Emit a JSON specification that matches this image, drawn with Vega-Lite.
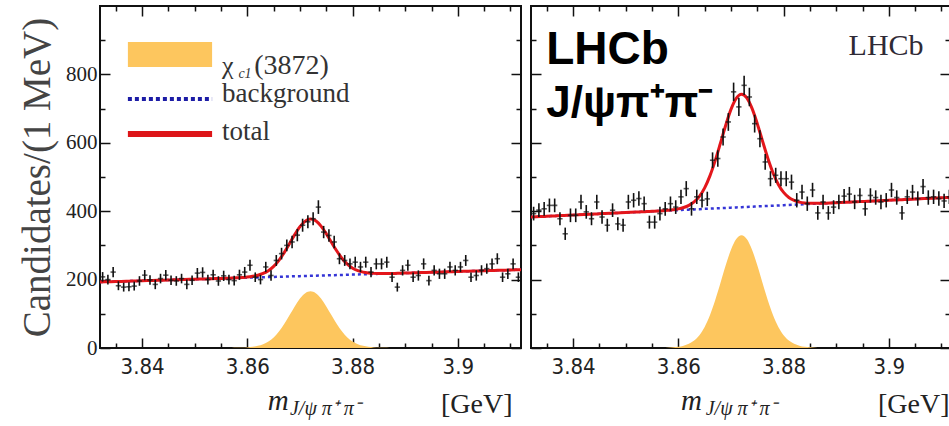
{
  "$schema": "https://vega.github.io/schema/vega-lite/v6.json",
  "background": "white",
  "padding": {"left": 17, "top": 4, "right": 0, "bottom": 0},
  "spacing": 6,
  "config": {
    "view": {"stroke": "#111", "strokeWidth": 2},
    "axis": {"domain": false, "grid": false, "tickColor": "#111", "tickWidth": 1.5, "labelOverlap": false, "labelFlush": false}
  },
  "datasets": {
    "curveL": [
      {"m":3.832,"bg":193.0,"sig":0,"tot":193.0},{"m":3.833,"bg":193.5,"sig":0,"tot":193.5},{"m":3.834,"bg":193.9,"sig":0,"tot":193.9},{"m":3.835,"bg":194.4,"sig":0,"tot":194.4},{"m":3.836,"bg":194.8,"sig":0,"tot":194.8},{"m":3.837,"bg":195.3,"sig":0,"tot":195.3},{"m":3.838,"bg":195.7,"sig":0,"tot":195.7},{"m":3.839,"bg":196.2,"sig":0,"tot":196.2},{"m":3.84,"bg":196.6,"sig":0,"tot":196.6},{"m":3.841,"bg":197.1,"sig":0,"tot":197.1},
      {"m":3.842,"bg":197.5,"sig":0,"tot":197.5},{"m":3.843,"bg":198.0,"sig":0,"tot":198.0},{"m":3.844,"bg":198.4,"sig":0,"tot":198.4},{"m":3.845,"bg":198.9,"sig":0,"tot":198.9},{"m":3.846,"bg":199.3,"sig":0,"tot":199.3},{"m":3.847,"bg":199.8,"sig":0,"tot":199.8},{"m":3.848,"bg":200.2,"sig":0,"tot":200.2},{"m":3.849,"bg":200.7,"sig":0,"tot":200.7},{"m":3.85,"bg":201.1,"sig":0,"tot":201.1},{"m":3.851,"bg":201.6,"sig":0,"tot":201.6},
      {"m":3.852,"bg":202.0,"sig":0,"tot":202.0},{"m":3.853,"bg":202.5,"sig":0,"tot":202.5},{"m":3.854,"bg":202.9,"sig":0,"tot":202.9},{"m":3.855,"bg":203.4,"sig":0,"tot":203.4},{"m":3.856,"bg":203.8,"sig":0,"tot":203.8},{"m":3.857,"bg":204.3,"sig":0.2,"tot":204.5},{"m":3.858,"bg":204.7,"sig":0.5,"tot":205.2},{"m":3.859,"bg":205.2,"sig":1.0,"tot":206.2},{"m":3.86,"bg":205.6,"sig":1.8,"tot":207.4},{"m":3.861,"bg":206.1,"sig":3.5,"tot":209.6},
      {"m":3.862,"bg":206.5,"sig":6.3,"tot":212.8},{"m":3.863,"bg":207.0,"sig":11.0,"tot":218.0},{"m":3.864,"bg":207.4,"sig":18.8,"tot":226.2},{"m":3.865,"bg":207.9,"sig":30.9,"tot":238.8},{"m":3.866,"bg":208.3,"sig":48.1,"tot":256.4},{"m":3.867,"bg":208.8,"sig":70.2,"tot":279.0},{"m":3.868,"bg":209.2,"sig":95.6,"tot":304.8},{"m":3.869,"bg":209.7,"sig":121.7,"tot":331.4},{"m":3.87,"bg":210.1,"sig":144.6,"tot":354.7},{"m":3.871,"bg":210.6,"sig":160.4,"tot":371.0},
      {"m":3.872,"bg":211.0,"sig":166.0,"tot":377.0},{"m":3.873,"bg":211.5,"sig":160.4,"tot":371.9},{"m":3.874,"bg":211.9,"sig":144.6,"tot":356.5},{"m":3.875,"bg":212.4,"sig":121.7,"tot":334.1},{"m":3.876,"bg":212.8,"sig":95.6,"tot":308.4},{"m":3.877,"bg":213.3,"sig":70.2,"tot":283.5},{"m":3.878,"bg":213.7,"sig":48.1,"tot":261.8},{"m":3.879,"bg":214.2,"sig":30.9,"tot":245.1},{"m":3.88,"bg":214.6,"sig":18.8,"tot":233.4},{"m":3.881,"bg":215.1,"sig":11.0,"tot":226.1},
      {"m":3.882,"bg":215.5,"sig":6.3,"tot":221.8},{"m":3.883,"bg":216.0,"sig":3.5,"tot":219.5},{"m":3.884,"bg":216.4,"sig":1.8,"tot":218.2},{"m":3.885,"bg":216.9,"sig":1.0,"tot":217.9},{"m":3.886,"bg":217.3,"sig":0.5,"tot":217.8},{"m":3.887,"bg":217.8,"sig":0.2,"tot":218.0},{"m":3.888,"bg":218.2,"sig":0,"tot":218.2},{"m":3.889,"bg":218.7,"sig":0,"tot":218.7},{"m":3.89,"bg":219.1,"sig":0,"tot":219.1},{"m":3.891,"bg":219.6,"sig":0,"tot":219.6},
      {"m":3.892,"bg":220.0,"sig":0,"tot":220.0},{"m":3.893,"bg":220.5,"sig":0,"tot":220.5},{"m":3.894,"bg":220.9,"sig":0,"tot":220.9},{"m":3.895,"bg":221.4,"sig":0,"tot":221.4},{"m":3.896,"bg":221.8,"sig":0,"tot":221.8},{"m":3.897,"bg":222.3,"sig":0,"tot":222.3},{"m":3.898,"bg":222.7,"sig":0,"tot":222.7},{"m":3.899,"bg":223.2,"sig":0,"tot":223.2},{"m":3.9,"bg":223.6,"sig":0,"tot":223.6},{"m":3.901,"bg":224.1,"sig":0,"tot":224.1},
      {"m":3.902,"bg":224.5,"sig":0,"tot":224.5},{"m":3.903,"bg":225.0,"sig":0,"tot":225.0},{"m":3.904,"bg":225.4,"sig":0,"tot":225.4},{"m":3.905,"bg":225.9,"sig":0,"tot":225.9},{"m":3.906,"bg":226.3,"sig":0,"tot":226.3},{"m":3.907,"bg":226.8,"sig":0,"tot":226.8},{"m":3.908,"bg":227.2,"sig":0,"tot":227.2},{"m":3.909,"bg":227.7,"sig":0,"tot":227.7},{"m":3.91,"bg":228.1,"sig":0,"tot":228.1},{"m":3.911,"bg":228.6,"sig":0,"tot":228.6},
      {"m":3.912,"bg":229.0,"sig":0,"tot":229.0}
    ],
    "curveR": [
      {"m":3.832,"bg":383.0,"sig":0,"tot":383.0},{"m":3.833,"bg":383.7,"sig":0,"tot":383.7},{"m":3.834,"bg":384.4,"sig":0,"tot":384.4},{"m":3.835,"bg":385.2,"sig":0,"tot":385.2},{"m":3.836,"bg":385.9,"sig":0,"tot":385.9},{"m":3.837,"bg":386.6,"sig":0,"tot":386.6},{"m":3.838,"bg":387.3,"sig":0,"tot":387.3},{"m":3.839,"bg":388.0,"sig":0,"tot":388.0},{"m":3.84,"bg":388.8,"sig":0,"tot":388.8},{"m":3.841,"bg":389.5,"sig":0,"tot":389.5},
      {"m":3.842,"bg":390.2,"sig":0,"tot":390.2},{"m":3.843,"bg":390.9,"sig":0,"tot":390.9},{"m":3.844,"bg":391.6,"sig":0,"tot":391.6},{"m":3.845,"bg":392.4,"sig":0,"tot":392.4},{"m":3.846,"bg":393.1,"sig":0,"tot":393.1},{"m":3.847,"bg":393.8,"sig":0,"tot":393.8},{"m":3.848,"bg":394.5,"sig":0,"tot":394.5},{"m":3.849,"bg":395.2,"sig":0,"tot":395.2},{"m":3.85,"bg":396.0,"sig":0,"tot":396.0},{"m":3.851,"bg":396.7,"sig":0,"tot":396.7},
      {"m":3.852,"bg":397.4,"sig":0,"tot":397.4},{"m":3.853,"bg":398.1,"sig":0,"tot":398.1},{"m":3.854,"bg":398.8,"sig":0,"tot":398.8},{"m":3.855,"bg":399.6,"sig":0,"tot":399.6},{"m":3.856,"bg":400.3,"sig":0,"tot":400.3},{"m":3.857,"bg":401.0,"sig":0.3,"tot":401.3},{"m":3.858,"bg":401.7,"sig":1.0,"tot":402.7},{"m":3.859,"bg":402.4,"sig":2.0,"tot":404.4},{"m":3.86,"bg":403.2,"sig":3.6,"tot":406.8},{"m":3.861,"bg":403.9,"sig":6.9,"tot":410.8},
      {"m":3.862,"bg":404.6,"sig":12.5,"tot":417.1},{"m":3.863,"bg":405.3,"sig":21.8,"tot":427.1},{"m":3.864,"bg":406.0,"sig":37.3,"tot":443.3},{"m":3.865,"bg":406.8,"sig":61.4,"tot":468.2},{"m":3.866,"bg":407.5,"sig":95.7,"tot":503.2},{"m":3.867,"bg":408.2,"sig":139.6,"tot":547.8},{"m":3.868,"bg":408.9,"sig":190.1,"tot":599.0},{"m":3.869,"bg":409.6,"sig":241.9,"tot":651.5},{"m":3.87,"bg":410.4,"sig":287.4,"tot":697.8},{"m":3.871,"bg":411.1,"sig":318.8,"tot":729.9},
      {"m":3.872,"bg":411.8,"sig":330.0,"tot":741.8},{"m":3.873,"bg":412.5,"sig":318.8,"tot":731.3},{"m":3.874,"bg":413.2,"sig":287.4,"tot":700.6},{"m":3.875,"bg":414.0,"sig":241.9,"tot":655.9},{"m":3.876,"bg":414.7,"sig":190.1,"tot":604.8},{"m":3.877,"bg":415.4,"sig":139.6,"tot":555.0},{"m":3.878,"bg":416.1,"sig":95.7,"tot":511.8},{"m":3.879,"bg":416.8,"sig":61.4,"tot":478.2},{"m":3.88,"bg":417.6,"sig":37.3,"tot":454.9},{"m":3.881,"bg":418.3,"sig":21.8,"tot":440.1},
      {"m":3.882,"bg":419.0,"sig":12.5,"tot":431.5},{"m":3.883,"bg":419.7,"sig":6.9,"tot":426.6},{"m":3.884,"bg":420.4,"sig":3.6,"tot":424.0},{"m":3.885,"bg":421.2,"sig":2.0,"tot":423.2},{"m":3.886,"bg":421.9,"sig":1.0,"tot":422.9},{"m":3.887,"bg":422.6,"sig":0.3,"tot":422.9},{"m":3.888,"bg":423.3,"sig":0,"tot":423.3},{"m":3.889,"bg":424.0,"sig":0,"tot":424.0},{"m":3.89,"bg":424.8,"sig":0,"tot":424.8},{"m":3.891,"bg":425.5,"sig":0,"tot":425.5},
      {"m":3.892,"bg":426.2,"sig":0,"tot":426.2},{"m":3.893,"bg":426.9,"sig":0,"tot":426.9},{"m":3.894,"bg":427.6,"sig":0,"tot":427.6},{"m":3.895,"bg":428.4,"sig":0,"tot":428.4},{"m":3.896,"bg":429.1,"sig":0,"tot":429.1},{"m":3.897,"bg":429.8,"sig":0,"tot":429.8},{"m":3.898,"bg":430.5,"sig":0,"tot":430.5},{"m":3.899,"bg":431.2,"sig":0,"tot":431.2},{"m":3.9,"bg":432.0,"sig":0,"tot":432.0},{"m":3.901,"bg":432.7,"sig":0,"tot":432.7},
      {"m":3.902,"bg":433.4,"sig":0,"tot":433.4},{"m":3.903,"bg":434.1,"sig":0,"tot":434.1},{"m":3.904,"bg":434.8,"sig":0,"tot":434.8},{"m":3.905,"bg":435.6,"sig":0,"tot":435.6},{"m":3.906,"bg":436.3,"sig":0,"tot":436.3},{"m":3.907,"bg":437.0,"sig":0,"tot":437.0},{"m":3.908,"bg":437.7,"sig":0,"tot":437.7},{"m":3.909,"bg":438.4,"sig":0,"tot":438.4},{"m":3.91,"bg":439.2,"sig":0,"tot":439.2},{"m":3.911,"bg":439.9,"sig":0,"tot":439.9},
      {"m":3.912,"bg":440.6,"sig":0,"tot":440.6}
    ],
    "ptsL": [
      {"m":3.8325,"n":208,"e":14},{"m":3.8335,"n":200,"e":14},{"m":3.8345,"n":222,"e":15},{"m":3.8355,"n":182,"e":13},{"m":3.8365,"n":178,"e":13},{"m":3.8375,"n":179,"e":13},{"m":3.8385,"n":181,"e":13},{"m":3.8395,"n":196,"e":14},{"m":3.8405,"n":213,"e":15},{"m":3.8415,"n":199,"e":14},
      {"m":3.8425,"n":186,"e":14},{"m":3.8435,"n":203,"e":14},{"m":3.8445,"n":213,"e":15},{"m":3.8455,"n":198,"e":14},{"m":3.8465,"n":196,"e":14},{"m":3.8475,"n":203,"e":14},{"m":3.8485,"n":186,"e":14},{"m":3.8495,"n":198,"e":14},{"m":3.8505,"n":219,"e":15},{"m":3.8515,"n":221,"e":15},
      {"m":3.8525,"n":200,"e":14},{"m":3.8535,"n":214,"e":15},{"m":3.8545,"n":196,"e":14},{"m":3.8555,"n":211,"e":15},{"m":3.8565,"n":200,"e":14},{"m":3.8575,"n":197,"e":14},{"m":3.8585,"n":214,"e":15},{"m":3.8595,"n":222,"e":15},{"m":3.8605,"n":242,"e":16},{"m":3.8615,"n":207,"e":14},
      {"m":3.8625,"n":200,"e":14},{"m":3.8635,"n":237,"e":15},{"m":3.8645,"n":212,"e":15},{"m":3.8655,"n":256,"e":16},{"m":3.8665,"n":276,"e":17},{"m":3.8675,"n":300,"e":17},{"m":3.8685,"n":310,"e":18},{"m":3.8695,"n":330,"e":18},{"m":3.8705,"n":359,"e":19},{"m":3.8715,"n":369,"e":19},
      {"m":3.8725,"n":378,"e":19},{"m":3.8735,"n":412,"e":20},{"m":3.8745,"n":339,"e":18},{"m":3.8755,"n":329,"e":18},{"m":3.8765,"n":310,"e":18},{"m":3.8775,"n":261,"e":16},{"m":3.8785,"n":256,"e":16},{"m":3.8795,"n":246,"e":16},{"m":3.8805,"n":251,"e":16},{"m":3.8815,"n":237,"e":15},
      {"m":3.8825,"n":251,"e":16},{"m":3.8835,"n":222,"e":15},{"m":3.8845,"n":246,"e":16},{"m":3.8855,"n":246,"e":16},{"m":3.8865,"n":251,"e":16},{"m":3.8875,"n":207,"e":14},{"m":3.8885,"n":178,"e":13},{"m":3.8895,"n":227,"e":15},{"m":3.8905,"n":242,"e":16},{"m":3.8915,"n":207,"e":14},
      {"m":3.8925,"n":212,"e":15},{"m":3.8935,"n":246,"e":16},{"m":3.8945,"n":197,"e":14},{"m":3.8955,"n":227,"e":15},{"m":3.8965,"n":217,"e":15},{"m":3.8975,"n":217,"e":15},{"m":3.8985,"n":237,"e":15},{"m":3.8995,"n":227,"e":15},{"m":3.9005,"n":237,"e":15},{"m":3.9015,"n":256,"e":16},
      {"m":3.9025,"n":207,"e":14},{"m":3.9035,"n":212,"e":15},{"m":3.9045,"n":227,"e":15},{"m":3.9055,"n":232,"e":15},{"m":3.9065,"n":246,"e":16},{"m":3.9075,"n":261,"e":16},{"m":3.9085,"n":207,"e":14},{"m":3.9095,"n":217,"e":15},{"m":3.9105,"n":246,"e":16},{"m":3.9115,"n":207,"e":14}
    ],
    "ptsR": [
      {"m":3.8325,"n":393,"e":20},{"m":3.8335,"n":403,"e":20},{"m":3.8345,"n":407,"e":20},{"m":3.8355,"n":417,"e":20},{"m":3.8365,"n":417,"e":20},{"m":3.8375,"n":378,"e":19},{"m":3.8385,"n":334,"e":18},{"m":3.8395,"n":388,"e":20},{"m":3.8405,"n":388,"e":20},{"m":3.8415,"n":427,"e":21},
      {"m":3.8425,"n":398,"e":20},{"m":3.8435,"n":378,"e":19},{"m":3.8445,"n":427,"e":21},{"m":3.8455,"n":383,"e":20},{"m":3.8465,"n":359,"e":19},{"m":3.8475,"n":403,"e":20},{"m":3.8485,"n":363,"e":19},{"m":3.8495,"n":359,"e":19},{"m":3.8505,"n":427,"e":21},{"m":3.8515,"n":432,"e":21},
      {"m":3.8525,"n":437,"e":21},{"m":3.8535,"n":422,"e":21},{"m":3.8545,"n":368,"e":19},{"m":3.8555,"n":368,"e":19},{"m":3.8565,"n":393,"e":20},{"m":3.8575,"n":407,"e":20},{"m":3.8585,"n":422,"e":21},{"m":3.8595,"n":412,"e":20},{"m":3.8605,"n":442,"e":21},{"m":3.8615,"n":466,"e":22},
      {"m":3.8625,"n":407,"e":20},{"m":3.8635,"n":442,"e":21},{"m":3.8645,"n":432,"e":21},{"m":3.8655,"n":436,"e":21},{"m":3.8665,"n":549,"e":23},{"m":3.8675,"n":554,"e":24},{"m":3.8685,"n":617,"e":25},{"m":3.8695,"n":661,"e":26},{"m":3.8705,"n":749,"e":27},{"m":3.8715,"n":705,"e":27},
      {"m":3.8725,"n":768,"e":28},{"m":3.8735,"n":734,"e":27},{"m":3.8745,"n":656,"e":26},{"m":3.8755,"n":612,"e":25},{"m":3.8765,"n":544,"e":23},{"m":3.8775,"n":495,"e":22},{"m":3.8785,"n":505,"e":22},{"m":3.8795,"n":495,"e":22},{"m":3.8805,"n":495,"e":22},{"m":3.8815,"n":485,"e":22},
      {"m":3.8825,"n":432,"e":21},{"m":3.8835,"n":456,"e":21},{"m":3.8845,"n":422,"e":21},{"m":3.8855,"n":462,"e":21},{"m":3.8865,"n":395,"e":20},{"m":3.8875,"n":427,"e":21},{"m":3.8885,"n":395,"e":20},{"m":3.8895,"n":412,"e":20},{"m":3.8905,"n":427,"e":21},{"m":3.8915,"n":444,"e":21},
      {"m":3.8925,"n":450,"e":21},{"m":3.8935,"n":427,"e":21},{"m":3.8945,"n":446,"e":21},{"m":3.8955,"n":407,"e":20},{"m":3.8965,"n":446,"e":21},{"m":3.8975,"n":440,"e":21},{"m":3.8985,"n":427,"e":21},{"m":3.8995,"n":432,"e":21},{"m":3.9005,"n":462,"e":21},{"m":3.9015,"n":440,"e":21},
      {"m":3.9025,"n":395,"e":20},{"m":3.9035,"n":442,"e":21},{"m":3.9045,"n":456,"e":21},{"m":3.9055,"n":437,"e":21},{"m":3.9065,"n":472,"e":22},{"m":3.9075,"n":440,"e":21},{"m":3.9085,"n":442,"e":21},{"m":3.9095,"n":437,"e":21},{"m":3.9105,"n":430,"e":21},{"m":3.9115,"n":442,"e":21}
    ]
  },
  "hconcat": [
    {
      "width": 421,
      "height": 342,
      "resolve": {"axis": {"x": "independent", "y": "independent"}},
      "layer": [
        {
          "data": {"name": "curveL"},
          "mark": {"type": "area", "color": "#fdc65e", "interpolate": "monotone", "clip": true},
          "encoding": {
            "x": {"field": "m", "type": "quantitative", "scale": {"domain": [3.832, 3.912], "nice": false, "zero": false},
              "axis": {"orient": "bottom", "values": [3.835,3.84,3.845,3.85,3.855,3.86,3.865,3.87,3.875,3.88,3.885,3.89,3.895,3.9,3.905,3.91],
                "tickSize": {"condition": {"test": "round(datum.value*1000) % 20 === 0", "value": -10}, "value": -5},
                "labelExpr": "round(datum.value*1000) % 20 === 0 ? format(datum.value, '~g') : ''",
                "labelFont": "Liberation Sans Narrow, DejaVu Sans Condensed, sans-serif", "labelFontSize": 22, "labelColor": "#222", "labelPadding": 18,
                "title": "[GeV]", "titleFont": "Liberation Serif", "titleFontSize": 28, "titleFontWeight": "normal", "titleColor": "#222",
                "titleAnchor": "end", "titleAlign": "right", "titleBaseline": "alphabetic", "titleX": 412, "titleY": 64}},
            "y": {"field": "sig", "type": "quantitative", "scale": {"domain": [0, 1000], "nice": false},
              "axis": {"orient": "left", "values": [0,100,200,300,400,500,600,700,800,900],
                "tickSize": {"condition": {"test": "datum.value % 200 === 0", "value": -10}, "value": -5},
                "labelExpr": "datum.value % 200 === 0 ? datum.label : ''",
                "labelFont": "Liberation Serif", "labelFontSize": 21, "labelColor": "#222", "labelPadding": 13,
                "title": "Candidates/(1 MeV)", "titleFont": "Liberation Serif", "titleFontSize": 39, "titleFontWeight": "normal", "titleColor": "#444", "titlePadding": 8}}
          }
        },
        {
          "data": {"name": "curveL"},
          "mark": {"type": "line", "color": "#3535d6", "strokeWidth": 2.5, "strokeDash": [3, 3], "interpolate": "monotone", "clip": true},
          "encoding": {
            "x": {"field": "m", "type": "quantitative",
              "axis": {"orient": "top", "values": [3.835,3.84,3.845,3.85,3.855,3.86,3.865,3.87,3.875,3.88,3.885,3.89,3.895,3.9,3.905,3.91],
                "tickSize": {"condition": {"test": "round(datum.value*1000) % 20 === 0", "value": -10}, "value": -5}, "labels": false, "title": null}},
            "y": {"field": "bg", "type": "quantitative",
              "axis": {"orient": "right", "values": [0,100,200,300,400,500,600,700,800,900],
                "tickSize": {"condition": {"test": "datum.value % 200 === 0", "value": -10}, "value": -5}, "labels": false, "title": null}}
          }
        },
        {
          "data": {"name": "curveL"},
          "mark": {"type": "line", "color": "#e3161b", "strokeWidth": 3, "interpolate": "monotone", "clip": true},
          "encoding": {
            "x": {"field": "m", "type": "quantitative", "axis": null},
            "y": {"field": "tot", "type": "quantitative", "axis": null}
          }
        },
        {
          "data": {"name": "ptsL"},
          "mark": {"type": "errorbar", "color": "#111", "thickness": 1.6},
          "encoding": {
            "x": {"field": "m", "type": "quantitative", "axis": null},
            "y": {"field": "n", "type": "quantitative", "axis": null},
            "yError": {"field": "e"}
          }
        },
        {
          "data": {"name": "ptsL"},
          "mark": {"type": "tick", "orient": "horizontal", "color": "#111", "thickness": 1.6, "size": 5.3, "clip": true},
          "encoding": {
            "x": {"field": "m", "type": "quantitative", "axis": null},
            "y": {"field": "n", "type": "quantitative", "axis": null}
          }
        },
        {
          "data": {"values": [{}]},
          "mark": {"type": "rect", "color": "#fdc65e"},
          "encoding": {
            "x": {"datum": 3.8373, "type": "quantitative", "axis": null}, "x2": {"datum": 3.8533},
            "y": {"datum": 895, "type": "quantitative", "axis": null}, "y2": {"datum": 822}
          }
        },
        {
          "data": {"values": [{}]},
          "mark": {"type": "rule", "color": "#1c1ca6", "strokeWidth": 4, "strokeDash": [4, 3]},
          "encoding": {
            "x": {"datum": 3.8373, "type": "quantitative", "axis": null}, "x2": {"datum": 3.8533},
            "y": {"datum": 728, "type": "quantitative", "axis": null}
          }
        },
        {
          "data": {"values": [{}]},
          "mark": {"type": "rule", "color": "#dd1518", "strokeWidth": 6},
          "encoding": {
            "x": {"datum": 3.8373, "type": "quantitative", "axis": null}, "x2": {"datum": 3.8533},
            "y": {"datum": 626, "type": "quantitative", "axis": null}
          }
        },
        {
          "data": {"values": [{}]},
          "mark": {"type": "text", "text": "χ", "font": "Liberation Serif", "fontSize": 26, "color": "#333", "align": "left", "baseline": "alphabetic"},
          "encoding": {"x": {"datum": 3.8552, "type": "quantitative", "axis": null}, "y": {"datum": 800, "type": "quantitative", "axis": null}}
        },
        {
          "data": {"values": [{}]},
          "mark": {"type": "text", "text": "c1", "font": "Liberation Serif", "fontStyle": "italic", "fontSize": 14, "color": "#333", "align": "left", "baseline": "alphabetic"},
          "encoding": {"x": {"datum": 3.8583, "type": "quantitative", "axis": null}, "y": {"datum": 790, "type": "quantitative", "axis": null}}
        },
        {
          "data": {"values": [{}]},
          "mark": {"type": "text", "text": "(3872)", "font": "Liberation Serif", "fontSize": 28, "color": "#333", "align": "left", "baseline": "alphabetic"},
          "encoding": {"x": {"datum": 3.8613, "type": "quantitative", "axis": null}, "y": {"datum": 800, "type": "quantitative", "axis": null}}
        },
        {
          "data": {"values": [{}]},
          "mark": {"type": "text", "text": "background", "font": "Liberation Serif", "fontSize": 27, "color": "#333", "align": "left", "baseline": "alphabetic"},
          "encoding": {"x": {"datum": 3.8552, "type": "quantitative", "axis": null}, "y": {"datum": 720, "type": "quantitative", "axis": null}}
        },
        {
          "data": {"values": [{}]},
          "mark": {"type": "text", "text": "total", "font": "Liberation Serif", "fontSize": 27, "color": "#333", "align": "left", "baseline": "alphabetic"},
          "encoding": {"x": {"datum": 3.8552, "type": "quantitative", "axis": null}, "y": {"datum": 608, "type": "quantitative", "axis": null}}
        },
        {
          "data": {"values": [{}]},
          "mark": {"type": "text", "text": "m", "font": "Liberation Serif", "fontStyle": "italic", "fontSize": 29, "color": "#222", "align": "left", "baseline": "alphabetic"},
          "encoding": {"x": {"datum": 3.8639, "type": "quantitative", "axis": null}, "y": {"datum": -181, "type": "quantitative", "axis": null}}
        },
        {
          "data": {"values": [{}]},
          "mark": {"type": "text", "text": "J/ψ π⁺ π⁻", "font": "Liberation Serif", "fontStyle": "italic", "fontSize": 20, "color": "#222", "align": "left", "baseline": "alphabetic"},
          "encoding": {"x": {"datum": 3.8681, "type": "quantitative", "axis": null}, "y": {"datum": -196, "type": "quantitative", "axis": null}}
        }
      ]
    },
    {
      "width": 419,
      "height": 342,
      "resolve": {"axis": {"x": "independent", "y": "independent"}},
      "layer": [
        {
          "data": {"name": "curveR"},
          "mark": {"type": "area", "color": "#fdc65e", "interpolate": "monotone", "clip": true},
          "encoding": {
            "x": {"field": "m", "type": "quantitative", "scale": {"domain": [3.832, 3.91162], "nice": false, "zero": false},
              "axis": {"orient": "bottom", "values": [3.835,3.84,3.845,3.85,3.855,3.86,3.865,3.87,3.875,3.88,3.885,3.89,3.895,3.9,3.905,3.91],
                "tickSize": {"condition": {"test": "round(datum.value*1000) % 20 === 0", "value": -10}, "value": -5},
                "labelExpr": "round(datum.value*1000) % 20 === 0 ? format(datum.value, '~g') : ''",
                "labelFont": "Liberation Sans Narrow, DejaVu Sans Condensed, sans-serif", "labelFontSize": 22, "labelColor": "#222", "labelPadding": 18,
                "title": "[GeV]", "titleFont": "Liberation Serif", "titleFontSize": 28, "titleFontWeight": "normal", "titleColor": "#222",
                "titleAnchor": "end", "titleAlign": "right", "titleBaseline": "alphabetic", "titleX": 418, "titleY": 64}},
            "y": {"field": "sig", "type": "quantitative", "scale": {"domain": [0, 1000], "nice": false},
              "axis": {"orient": "left", "values": [0,100,200,300,400,500,600,700,800,900],
                "tickSize": {"condition": {"test": "datum.value % 200 === 0", "value": -10}, "value": -5}, "labels": false, "title": null}}
          }
        },
        {
          "data": {"name": "curveR"},
          "mark": {"type": "line", "color": "#3535d6", "strokeWidth": 2.5, "strokeDash": [3, 3], "interpolate": "monotone", "clip": true},
          "encoding": {
            "x": {"field": "m", "type": "quantitative",
              "axis": {"orient": "top", "values": [3.835,3.84,3.845,3.85,3.855,3.86,3.865,3.87,3.875,3.88,3.885,3.89,3.895,3.9,3.905,3.91],
                "tickSize": {"condition": {"test": "round(datum.value*1000) % 20 === 0", "value": -10}, "value": -5}, "labels": false, "title": null}},
            "y": {"field": "bg", "type": "quantitative",
              "axis": {"orient": "right", "values": [0,100,200,300,400,500,600,700,800,900],
                "tickSize": {"condition": {"test": "datum.value % 200 === 0", "value": -10}, "value": -5}, "labels": false, "title": null}}
          }
        },
        {
          "data": {"name": "curveR"},
          "mark": {"type": "line", "color": "#e3161b", "strokeWidth": 3, "interpolate": "monotone", "clip": true},
          "encoding": {
            "x": {"field": "m", "type": "quantitative", "axis": null},
            "y": {"field": "tot", "type": "quantitative", "axis": null}
          }
        },
        {
          "data": {"name": "ptsR"},
          "mark": {"type": "errorbar", "color": "#111", "thickness": 1.6},
          "encoding": {
            "x": {"field": "m", "type": "quantitative", "axis": null},
            "y": {"field": "n", "type": "quantitative", "axis": null},
            "yError": {"field": "e"}
          }
        },
        {
          "data": {"name": "ptsR"},
          "mark": {"type": "tick", "orient": "horizontal", "color": "#111", "thickness": 1.6, "size": 5.3, "clip": true},
          "encoding": {
            "x": {"field": "m", "type": "quantitative", "axis": null},
            "y": {"field": "n", "type": "quantitative", "axis": null}
          }
        },
        {
          "data": {"values": [{}]},
          "mark": {"type": "text", "text": "LHCb", "font": "Liberation Sans", "fontWeight": "bold", "fontSize": 46, "color": "#000", "align": "left", "baseline": "alphabetic"},
          "encoding": {"x": {"datum": 3.8349, "type": "quantitative", "axis": null}, "y": {"datum": 830, "type": "quantitative", "axis": null}}
        },
        {
          "data": {"values": [{}]},
          "mark": {"type": "text", "text": "J/ψπ⁺π⁻", "font": "Liberation Sans", "fontWeight": "bold", "fontSize": 44, "color": "#000", "align": "left", "baseline": "alphabetic"},
          "encoding": {"x": {"datum": 3.8349, "type": "quantitative", "axis": null}, "y": {"datum": 675, "type": "quantitative", "axis": null}}
        },
        {
          "data": {"values": [{}]},
          "mark": {"type": "text", "text": "LHCb", "font": "Liberation Serif", "fontSize": 30, "color": "#2f2a35", "align": "right", "baseline": "alphabetic"},
          "encoding": {"x": {"datum": 3.9066, "type": "quantitative", "axis": null}, "y": {"datum": 857, "type": "quantitative", "axis": null}}
        },
        {
          "data": {"values": [{}]},
          "mark": {"type": "text", "text": "m", "font": "Liberation Serif", "fontStyle": "italic", "fontSize": 29, "color": "#222", "align": "left", "baseline": "alphabetic"},
          "encoding": {"x": {"datum": 3.8605, "type": "quantitative", "axis": null}, "y": {"datum": -181, "type": "quantitative", "axis": null}}
        },
        {
          "data": {"values": [{}]},
          "mark": {"type": "text", "text": "J/ψ π⁺ π⁻", "font": "Liberation Serif", "fontStyle": "italic", "fontSize": 20, "color": "#222", "align": "left", "baseline": "alphabetic"},
          "encoding": {"x": {"datum": 3.8652, "type": "quantitative", "axis": null}, "y": {"datum": -196, "type": "quantitative", "axis": null}}
        }
      ]
    }
  ]
}
